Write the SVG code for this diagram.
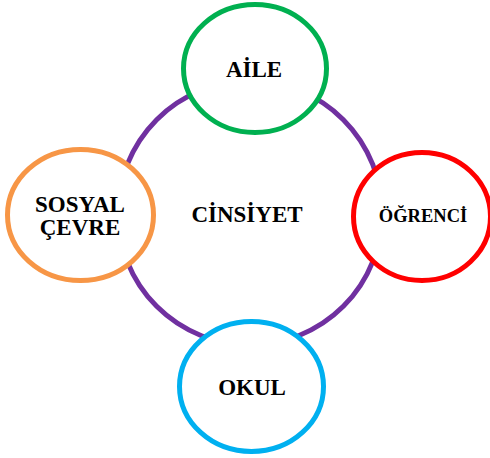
<svg xmlns="http://www.w3.org/2000/svg" width="490" height="458" viewBox="0 0 490 458">
<style>
.n{fill:#fff;stroke-width:5}
.t{font-family:"Liberation Serif","Times New Roman",serif;font-weight:bold;font-size:23px;fill:#000;text-anchor:middle}
</style>
<rect width="490" height="458" fill="#fff"/>
<g id="connectors">
<circle cx="250" cy="213" r="132" fill="none" stroke="#7030A0" stroke-width="5"/>
</g>
<g id="center">
<text class="t" x="247" y="222">CİNSİYET</text>
</g>
<g id="aile">
<ellipse class="n" cx="255" cy="68.5" rx="71.5" ry="64" stroke="#00B050"/>
<text class="t" x="254" y="77">AİLE</text>
</g>
<g id="ogrenci">
<ellipse class="n" cx="422" cy="216.5" rx="68.5" ry="64" stroke="#FF0000"/>
<text class="t" x="423" y="222" style="font-size:18.5px">ÖĞRENCİ</text>
</g>
<g id="sosyal">
<ellipse class="n" cx="80.5" cy="215" rx="73" ry="65.5" stroke="#F79646"/>
<text class="t" x="80" y="212">SOSYAL</text>
<text class="t" x="80" y="235">ÇEVRE</text>
</g>
<g id="okul">
<ellipse class="n" cx="251.5" cy="386.5" rx="72" ry="65" stroke="#00B0F0"/>
<text class="t" x="252" y="395">OKUL</text>
</g>
</svg>
